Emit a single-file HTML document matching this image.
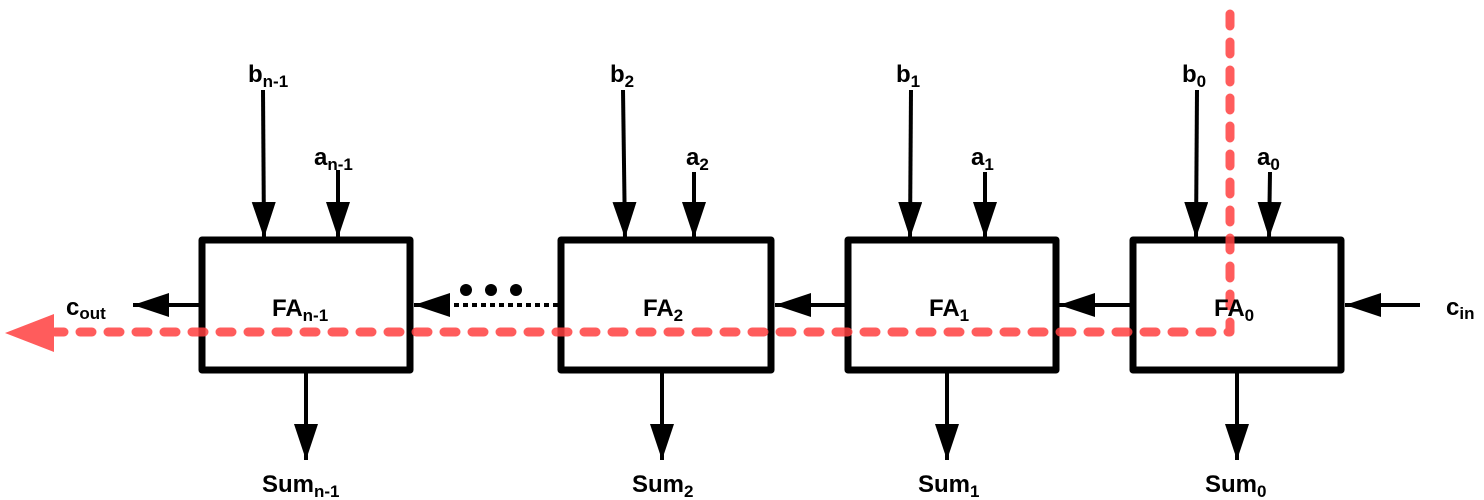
<!DOCTYPE html>
<html><head><meta charset="utf-8"><style>
html,body{margin:0;padding:0;background:#fff;}
svg{display:block}
text{font-family:"Liberation Sans",sans-serif;font-weight:bold;fill:#000;}
</style></head><body>
<svg width="1484" height="500" viewBox="0 0 1484 500" xmlns="http://www.w3.org/2000/svg">
<defs>
<marker id="ah" markerUnits="userSpaceOnUse" markerWidth="40" markerHeight="30" refX="36" refY="12" orient="auto">
<path d="M0,0 L36,12 L0,24 Z" fill="#000"/>
</marker>
</defs>
<g fill="none" stroke="#000" stroke-width="7" stroke-linejoin="round">
<rect x="202" y="240" width="208" height="130"/>
<rect x="561" y="240" width="210" height="130"/>
<rect x="848" y="240" width="208" height="130"/>
<rect x="1133" y="240" width="208" height="130"/>
</g>
<g stroke="#000" stroke-width="4" marker-end="url(#ah)">
<line x1="263" y1="90" x2="264" y2="238"/>
<line x1="338" y1="170" x2="338" y2="238"/>
<line x1="623" y1="90" x2="625" y2="238"/>
<line x1="694" y1="172" x2="694" y2="238"/>
<line x1="911" y1="90" x2="910" y2="238"/>
<line x1="985" y1="172" x2="985" y2="238"/>
<line x1="1197" y1="90" x2="1196" y2="238"/>
<line x1="1270" y1="172" x2="1269" y2="238"/>
<line x1="306" y1="372" x2="306" y2="460"/>
<line x1="662" y1="372" x2="662" y2="460"/>
<line x1="947" y1="372" x2="947" y2="460"/>
<line x1="1237" y1="372" x2="1237" y2="460"/>
<line x1="1420" y1="305" x2="1345" y2="305"/>
<line x1="1130" y1="305" x2="1059" y2="305"/>
<line x1="845" y1="305" x2="775" y2="305"/>
<line x1="200" y1="305" x2="133" y2="305"/>
</g>
<line x1="558" y1="305" x2="440" y2="305" stroke="#000" stroke-width="4" stroke-dasharray="5,4"/>
<path d="M450,305 L414,305" stroke="#000" stroke-width="4" marker-end="url(#ah)"/>
<circle cx="466" cy="290" r="6"/><circle cx="491" cy="290" r="6"/><circle cx="516" cy="290" r="6"/>
<g opacity="0.85">
<path d="M1230,14 L1230,332 L55,332" fill="none" stroke="#ff4040" stroke-width="9" stroke-linecap="round" stroke-linejoin="round" stroke-dasharray="12,16"/>
<path d="M5,333 L54,314 L54,352 Z" fill="#ff4040"/>
</g>
<g font-size="24">
<text x="248" y="82">b<tspan font-size="17" dy="5">n-1</tspan></text>
<text x="314" y="165">a<tspan font-size="17" dy="5">n-1</tspan></text>
<text x="610" y="82">b<tspan font-size="17" dy="5">2</tspan></text>
<text x="686" y="165">a<tspan font-size="17" dy="5">2</tspan></text>
<text x="896" y="82">b<tspan font-size="17" dy="5">1</tspan></text>
<text x="971" y="165">a<tspan font-size="17" dy="5">1</tspan></text>
<text x="1182" y="82">b<tspan font-size="17" dy="5">0</tspan></text>
<text x="1257" y="165">a<tspan font-size="17" dy="5">0</tspan></text>
<text x="66" y="315">c<tspan font-size="17" dy="4">out</tspan></text>
<text x="1446" y="315">c<tspan font-size="17" dy="4">in</tspan></text>
<text x="272" y="316">FA<tspan font-size="17" dy="5">n-1</tspan></text>
<text x="643" y="316">FA<tspan font-size="17" dy="5">2</tspan></text>
<text x="929" y="316">FA<tspan font-size="17" dy="5">1</tspan></text>
<text x="1214" y="316">FA<tspan font-size="17" dy="5">0</tspan></text>
<text x="262" y="492">Sum<tspan font-size="17" dy="5">n-1</tspan></text>
<text x="632" y="492">Sum<tspan font-size="17" dy="5">2</tspan></text>
<text x="918" y="492">Sum<tspan font-size="17" dy="5">1</tspan></text>
<text x="1205" y="492">Sum<tspan font-size="17" dy="5">0</tspan></text>
</g>
</svg>
</body></html>
